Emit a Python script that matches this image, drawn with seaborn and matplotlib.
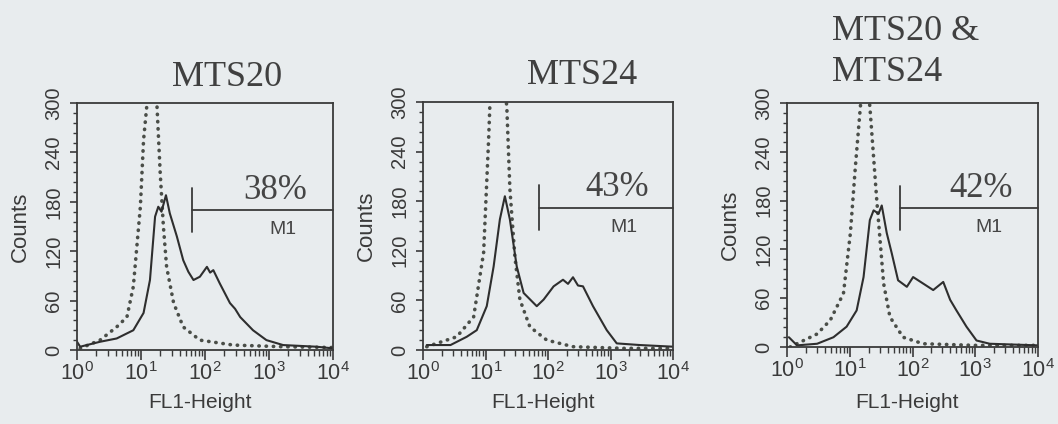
import numpy as np
import pandas as pd
import matplotlib
matplotlib.use("Agg")
import matplotlib.pyplot as plt
import seaborn as sns
from matplotlib.ticker import FixedLocator, MultipleLocator, LogLocator, NullFormatter

# ---------------- data ----------------
# x positions are given in decades of FL1-Height (10**value), y are counts
titles = ["MTS20", "MTS24", "MTS20 &\nMTS24"]
percents = ["38%", "43%", "42%"]
gate_start_log = [1.80, 1.85, 1.80]
gate_level = [170, 172, 171]

p1_solid_log = [0.0, 0.05, 0.36, 0.62, 0.88, 1.04, 1.14, 1.22, 1.27, 1.32, 1.39, 1.45, 1.56, 1.66,
                1.74, 1.82, 1.92, 2.03, 2.08, 2.13, 2.23, 2.39, 2.47, 2.55, 2.75, 2.96, 3.22, 3.74, 4.0]
p1_solid_cnt = [10, 4, 10, 14, 24, 45, 85, 162, 174, 168, 188, 166, 138, 109,
                95, 85, 89, 101, 94, 97, 81, 57, 50, 40, 24, 12, 6, 4, 2]
p1_dot_log = [0.05, 0.36, 0.62, 0.78, 0.88, 0.99, 1.04, 1.09, 1.17, 1.25, 1.30, 1.35, 1.40, 1.51,
              1.66, 1.92, 2.44, 3.2, 4.0]
p1_dot_cnt = [2, 12, 28, 40, 77, 174, 255, 296, 360, 296, 215, 150, 101, 57,
              28, 12, 6, 4, 3]

p2_solid_log = [0.06, 0.44, 0.70, 0.86, 1.02, 1.13, 1.23, 1.31, 1.39, 1.50, 1.61, 1.82, 1.93, 2.09,
                2.24, 2.32, 2.40, 2.48, 2.56, 2.72, 2.94, 3.10, 3.47, 4.0]
p2_solid_cnt = [6, 6, 16, 24, 53, 101, 158, 186, 158, 101, 69, 53, 61, 77,
                85, 80, 88, 78, 77, 53, 24, 8, 6, 4]
p2_dot_log = [0.06, 0.54, 0.81, 0.97, 1.05, 1.07, 1.20, 1.34, 1.39, 1.47, 1.55, 1.71, 1.98, 2.40,
              3.2, 4.0]
p2_dot_cnt = [4, 16, 40, 118, 255, 296, 360, 296, 195, 113, 61, 28, 12, 4,
              2, 2]

p3_solid_log = [0.03, 0.16, 0.48, 0.74, 0.95, 1.11, 1.22, 1.32, 1.38, 1.46, 1.51, 1.59, 1.67, 1.77,
                1.91, 2.01, 2.17, 2.33, 2.49, 2.60, 2.70, 2.86, 3.02, 3.23, 4.0]
p3_solid_cnt = [12, 2, 4, 12, 25, 45, 86, 156, 168, 164, 174, 140, 115, 82,
                74, 86, 78, 70, 80, 58, 45, 25, 8, 4, 2]
p3_dot_log = [0.05, 0.48, 0.69, 0.90, 1.01, 1.09, 1.17, 1.24, 1.32, 1.43, 1.54, 1.64, 1.85, 2.17,
              3.0, 4.0]
p3_dot_cnt = [0, 16, 33, 66, 140, 222, 296, 350, 296, 181, 78, 37, 12, 4,
              2, 2]

y_ticks = [0, 60, 120, 180, 240, 300]
x_ticks = [1, 10, 100, 1000, 10000]
x_ticklabels = ["$10^{0}$", "$10^{1}$", "$10^{2}$", "$10^{3}$", "$10^{4}$"]

panels = [
    (p1_solid_log, p1_solid_cnt, p1_dot_log, p1_dot_cnt),
    (p2_solid_log, p2_solid_cnt, p2_dot_log, p2_dot_cnt),
    (p3_solid_log, p3_solid_cnt, p3_dot_log, p3_dot_cnt),
]

# ---------------- style ----------------
sns.set_theme(style="white")
BG = "#e8ecee"
INK = "#3a3a3a"
plt.rcParams["font.family"] = ["Liberation Sans", "DejaVu Sans"]
plt.rcParams["mathtext.fontset"] = "custom"
plt.rcParams["mathtext.rm"] = "Liberation Sans"
plt.rcParams["mathtext.it"] = "Liberation Sans"
plt.rcParams["mathtext.bf"] = "Liberation Sans"
plt.rcParams["text.color"] = INK

W, H = 1058, 424
fig = plt.figure(figsize=(W / 100, H / 100), dpi=100, facecolor=BG)

# axes boxes in pixels: left, top, right, bottom
boxes = [(77, 103, 333, 350), (423, 102, 673, 350), (787, 103, 1038, 347)]

for i, ((sl, sc, dl, dc), (l, t, r, b)) in enumerate(zip(panels, boxes)):
    ax = fig.add_axes([l / W, 1 - b / H, (r - l) / W, (b - t) / H])
    ax.set_facecolor(BG)
    df_s = pd.DataFrame({"fl1": np.power(10.0, sl), "counts": sc})
    df_d = pd.DataFrame({"fl1": np.power(10.0, dl), "counts": dc})
    sns.lineplot(data=df_d, x="fl1", y="counts", ax=ax, color="#4a4e48", lw=2.6,
                 linestyle=(0, (0.1, 1.9)), dash_capstyle="round", sort=False,
                 estimator=None)
    sns.lineplot(data=df_s, x="fl1", y="counts", ax=ax, color="#2e2e2e", lw=1.5,
                 sort=False, estimator=None)
    ax.set_xscale("log")
    ax.set_xlim(1, 10000)
    ax.set_ylim(0, 300)

    # gate marker M1
    g0 = 10 ** gate_start_log[i]
    ax.plot([g0, 10000], [gate_level[i], gate_level[i]], color="#3a3a3a", lw=1.3, clip_on=False)
    ax.plot([g0, g0], [gate_level[i] - 27, gate_level[i] + 27], color="#3a3a3a", lw=1.3)
    ax.text(10 ** 3.1, gate_level[i] + 24, percents[i], family="Liberation Serif",
            fontsize=25, ha="center", va="center", color="#454545")
    ax.text(10 ** 3.22, gate_level[i] - 24, "M1", fontsize=14, ha="center",
            va="center", color="#454545")

    # axes styling
    for s in ax.spines.values():
        s.set_visible(True)
        s.set_color("#3a3a3a")
        s.set_linewidth(1.3)
    ax.yaxis.set_major_locator(FixedLocator(y_ticks))
    ax.yaxis.set_minor_locator(MultipleLocator(12))
    ax.set_yticklabels([str(v) for v in y_ticks], rotation=90, va="center", fontsize=14.5)
    ax.xaxis.set_major_locator(FixedLocator(x_ticks))
    ax.set_xticklabels(x_ticklabels, fontsize=15.5)
    ax.xaxis.set_minor_locator(LogLocator(base=10, subs=np.arange(2, 10)))
    ax.xaxis.set_minor_formatter(NullFormatter())
    ax.tick_params(axis="y", which="major", direction="out", length=5, width=1.2,
                   colors="#3a3a3a", pad=5, left=True)
    ax.tick_params(axis="y", which="minor", direction="out", length=3, width=1.0,
                   colors="#3a3a3a", left=True)
    ax.tick_params(axis="x", which="major", direction="out", length=7, width=1.2,
                   colors="#3a3a3a", pad=2, bottom=True)
    ax.tick_params(axis="x", which="minor", direction="out", length=4, width=1.0,
                   colors="#3a3a3a", bottom=True)
    ax.set_xlabel("")
    ax.set_ylabel("")
    ax.text(-57 / (r - l), 0.5, "Counts", transform=ax.transAxes, rotation=90,
            ha="center", va="center", fontsize=16)
    ax.text(0.48, -(402 - b) / (b - t), "FL1-Height", transform=ax.transAxes,
            ha="center", va="center", fontsize=15)

# titles
fig.text(227 / W, 1 - 77 / H, titles[0], family="Liberation Serif", fontsize=26,
         ha="center", va="center", color="#404040")
fig.text(582 / W, 1 - 75 / H, titles[1], family="Liberation Serif", fontsize=26,
         ha="center", va="center", color="#404040")
fig.text(832 / W, 1 - 52 / H, titles[2], family="Liberation Serif", fontsize=26,
         ha="left", va="center", color="#404040", linespacing=1.3)

fig.savefig("out.png", dpi=100, facecolor=BG)
